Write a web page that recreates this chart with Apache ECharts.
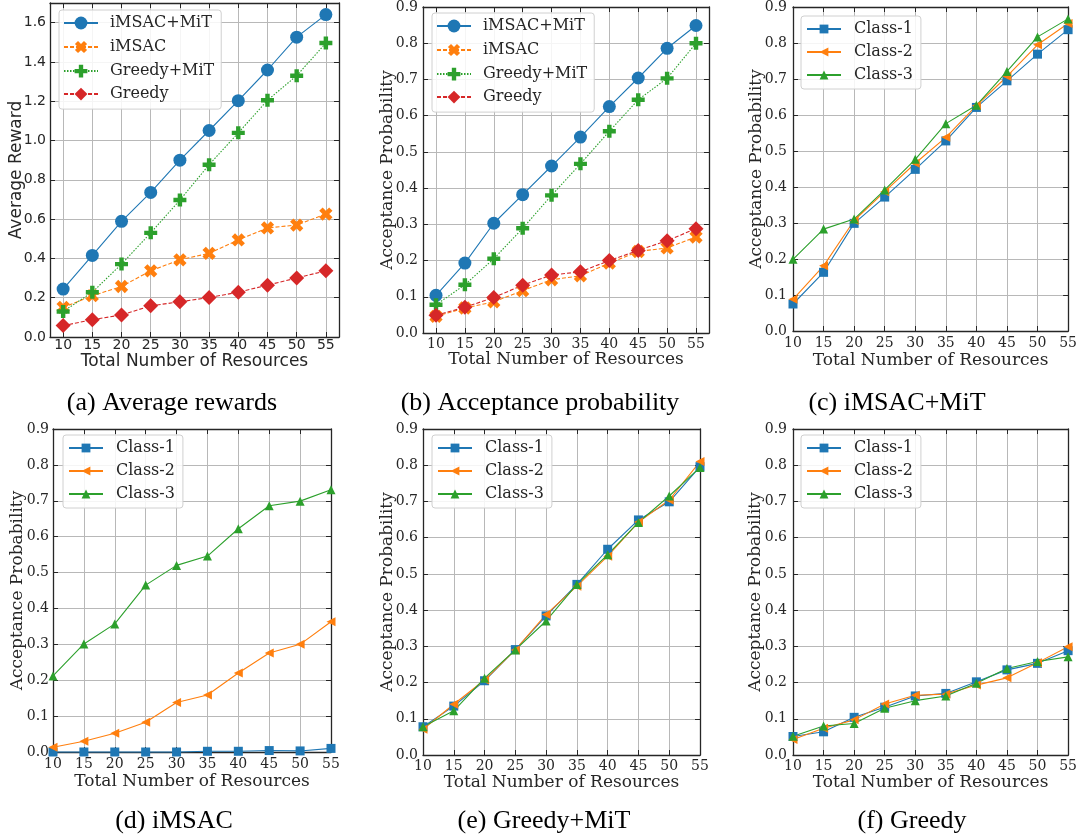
<!DOCTYPE html>
<html><head><meta charset="utf-8">
<script src="https://cdn.jsdelivr.net/npm/echarts@6/dist/echarts.min.js"></script>
<style>html,body{margin:0;padding:0;background:#fff}#c{width:1080px;height:840px}</style>
</head><body><div id="c"></div>
<script>
// ---------------- data ----------------
const resources = [10, 15, 20, 25, 30, 35, 40, 45, 50, 55];
const xTickValues = [10, 15, 20, 25, 30, 35, 40, 45, 50, 55];
const rewardTickValues = [0, 0.2, 0.4, 0.6, 0.8, 1.0, 1.2, 1.4, 1.6];
const probTickValues = [0, 0.1, 0.2, 0.3, 0.4, 0.5, 0.6, 0.7, 0.8, 0.9];
const algorithmNames = ['iMSAC+MiT', 'iMSAC', 'Greedy+MiT', 'Greedy'];
const classNames = ['Class-1', 'Class-2', 'Class-3'];
const captions = ['(a) Average rewards', '(b) Acceptance probability', '(c) iMSAC+MiT',
                  '(d) iMSAC', '(e) Greedy+MiT', '(f) Greedy'];
const xTitle = 'Total Number of Resources';
const yTitles = ['Average Reward', 'Acceptance Probability', 'Acceptance Probability',
                 'Acceptance Probability', 'Acceptance Probability', 'Acceptance Probability'];

// (a) average reward
const rewardIMSACMiT = [0.244, 0.415, 0.589, 0.736, 0.900, 1.051, 1.203, 1.359, 1.526, 1.641];
const rewardIMSAC = [0.151, 0.210, 0.257, 0.337, 0.393, 0.426, 0.494, 0.555, 0.570, 0.626];
const rewardGreedyMiT = [0.130, 0.228, 0.371, 0.530, 0.697, 0.877, 1.039, 1.205, 1.330, 1.496];
const rewardGreedy = [0.058, 0.088, 0.112, 0.159, 0.179, 0.201, 0.228, 0.264, 0.300, 0.337];
// (b) acceptance probability
const accIMSACMiT = [0.104, 0.193, 0.303, 0.382, 0.461, 0.541, 0.625, 0.704, 0.786, 0.849];
const accIMSAC = [0.046, 0.069, 0.086, 0.117, 0.147, 0.158, 0.193, 0.225, 0.235, 0.265];
const accGreedyMiT = [0.078, 0.133, 0.205, 0.289, 0.380, 0.467, 0.557, 0.644, 0.703, 0.800];
const accGreedy = [0.049, 0.071, 0.098, 0.132, 0.160, 0.169, 0.200, 0.228, 0.255, 0.288];
// (c) iMSAC+MiT per class
const imsacMiTClass1 = [0.075, 0.163, 0.299, 0.372, 0.449, 0.528, 0.621, 0.695, 0.769, 0.837];
const imsacMiTClass2 = [0.088, 0.181, 0.307, 0.387, 0.466, 0.538, 0.626, 0.707, 0.795, 0.854];
const imsacMiTClass3 = [0.199, 0.283, 0.311, 0.392, 0.477, 0.576, 0.627, 0.721, 0.817, 0.867];
// (d) iMSAC per class
const imsacClass1 = [0.000, 0.000, 0.000, 0.000, 0.000, 0.002, 0.002, 0.004, 0.003, 0.010];
const imsacClass2 = [0.013, 0.030, 0.052, 0.083, 0.138, 0.159, 0.220, 0.276, 0.300, 0.363];
const imsacClass3 = [0.212, 0.301, 0.357, 0.465, 0.520, 0.546, 0.622, 0.686, 0.699, 0.731];
// (e) Greedy+MiT per class
const greedyMiTClass1 = [0.078, 0.135, 0.205, 0.291, 0.384, 0.471, 0.568, 0.649, 0.699, 0.796];
const greedyMiTClass2 = [0.071, 0.140, 0.207, 0.290, 0.388, 0.466, 0.549, 0.643, 0.704, 0.810];
const greedyMiTClass3 = [0.078, 0.122, 0.212, 0.290, 0.370, 0.471, 0.553, 0.642, 0.715, 0.794];
// (f) Greedy per class
const greedyClass1 = [0.051, 0.064, 0.104, 0.132, 0.163, 0.170, 0.202, 0.235, 0.253, 0.288];
const greedyClass2 = [0.043, 0.074, 0.097, 0.141, 0.165, 0.168, 0.193, 0.213, 0.255, 0.299];
const greedyClass3 = [0.052, 0.080, 0.087, 0.129, 0.150, 0.163, 0.198, 0.239, 0.258, 0.271];

// ---------------- styling / layout ----------------
const SERIF = "'DejaVu Serif', serif";
const SANS = "'DejaVu Sans', sans-serif";
const CAPTION_FONT = "'Liberation Serif', 'Times New Roman', serif";
const C = ['#1f77b4', '#ff7f0e', '#2ca02c', '#d62728'];
const frameColor = '#262626';
const textColor = '#262626';
const gridColor = '#b8b8b8';
const plusPath = 'path://M-0.17,-0.5L0.17,-0.5L0.17,-0.17L0.5,-0.17L0.5,0.17L0.17,0.17L0.17,0.5L-0.17,0.5L-0.17,0.17L-0.5,0.17L-0.5,-0.17L-0.17,-0.17Z';

const panels = [
  {grid: {left: 50, top: 3, width: 289, height: 334}, xMin: 7.75, xMax: 57.25, yMax: 1.70, yTicks: rewardTickValues,
   font: SANS, xMargin: 1, xNameGap: 16, yNameGap: 25, yMargin: 4, legend: {left: 59, top: 10}},
  {grid: {left: 423, top: 7, width: 286, height: 326}, xMin: 7.75, xMax: 57.25, yMax: 0.9, yTicks: probTickValues,
   font: SERIF, xMargin: 4, xNameGap: 18, yNameGap: 27, yMargin: 5, legend: {left: 432, top: 13}},
  {grid: {left: 793, top: 7, width: 276, height: 324}, xMin: 10, xMax: 55, yMax: 0.9, yTicks: probTickValues,
   font: SERIF, xMargin: 5, xNameGap: 21, yNameGap: 28, yMargin: 6, legend: {left: 801, top: 16}},
  {grid: {left: 53, top: 429, width: 278, height: 323}, xMin: 10, xMax: 55, yMax: 0.9, yTicks: probTickValues,
   font: SERIF, xMargin: 5, xNameGap: 21, yNameGap: 27, yMargin: 4, legend: {left: 63, top: 435}},
  {grid: {left: 423, top: 429, width: 277, height: 326}, xMin: 10, xMax: 55, yMax: 0.9, yTicks: probTickValues,
   font: SERIF, xMargin: 4, xNameGap: 19, yNameGap: 27, yMargin: 5, legend: {left: 432, top: 435}},
  {grid: {left: 793, top: 429, width: 276, height: 326}, xMin: 10, xMax: 55, yMax: 0.9, yTicks: probTickValues,
   font: SERIF, xMargin: 4, xNameGap: 19, yNameGap: 29, yMargin: 6, legend: {left: 801, top: 435}}
];

const captionPos = [
  {x: 172, y: 403}, {x: 540, y: 403}, {x: 897, y: 403},
  {x: 174, y: 821}, {x: 544, y: 821}, {x: 912, y: 821}
];

const algoStyles = [
  {symbol: 'circle', symbolSize: 13, type: 'solid', rotate: 0},
  {symbol: plusPath, symbolSize: 14, type: [4, 2], rotate: 45},
  {symbol: plusPath, symbolSize: 13, type: [1.5, 1.5], rotate: 0},
  {symbol: 'diamond', symbolSize: 15, type: [4, 2], rotate: 0}
];
const classStyles = [
  {symbol: 'rect', symbolSize: 9, rotate: 0},
  {symbol: 'triangle', symbolSize: 9, rotate: 90},
  {symbol: 'triangle', symbolSize: 9, rotate: 0}
];

const panelSeries = [
  [rewardIMSACMiT, rewardIMSAC, rewardGreedyMiT, rewardGreedy],
  [accIMSACMiT, accIMSAC, accGreedyMiT, accGreedy],
  [imsacMiTClass1, imsacMiTClass2, imsacMiTClass3],
  [imsacClass1, imsacClass2, imsacClass3],
  [greedyMiTClass1, greedyMiTClass2, greedyMiTClass3],
  [greedyClass1, greedyClass2, greedyClass3]
];

const grids = [], xAxes = [], yAxes = [], series = [], legends = [], graphics = [];

panels.forEach((p, i) => {
  grids.push(Object.assign({containLabel: false}, p.grid));
  const lineCfg = {show: true, onZero: false, lineStyle: {color: frameColor, width: 1.3}};
  const tickCfg = (vals) => ({show: true, inside: true, length: 5, customValues: vals, lineStyle: {color: frameColor, width: 1}});
  // bottom x
  xAxes.push({
    gridIndex: i, type: 'value', min: p.xMin, max: p.xMax, position: 'bottom',
    axisLine: lineCfg, axisTick: tickCfg(xTickValues),
    axisLabel: {customValues: xTickValues, margin: p.xMargin, fontFamily: p.font, fontSize: 14, color: textColor,
                formatter: v => String(Math.round(v))},
    splitLine: {show: true, lineStyle: {color: gridColor, width: 1}},
    name: xTitle, nameLocation: 'middle', nameGap: p.xNameGap, nameMoveOverlap: false,
    nameTextStyle: {fontFamily: p.font, fontSize: 17, color: textColor}
  });
  // top x (ticks only)
  xAxes.push({
    gridIndex: i, type: 'value', min: p.xMin, max: p.xMax, position: 'top',
    axisLine: lineCfg, axisTick: tickCfg(xTickValues), axisLabel: {show: false}, splitLine: {show: false}
  });
  // left y
  yAxes.push({
    gridIndex: i, type: 'value', min: 0, max: p.yMax, position: 'left',
    axisLine: lineCfg, axisTick: tickCfg(p.yTicks),
    axisLabel: {customValues: p.yTicks, margin: p.yMargin, fontFamily: p.font, fontSize: 14, color: textColor,
                formatter: v => v.toFixed(1)},
    splitLine: {show: true, lineStyle: {color: gridColor, width: 1}},
    name: yTitles[i], nameLocation: 'middle', nameGap: p.yNameGap, nameMoveOverlap: false,
    nameTextStyle: {fontFamily: p.font, fontSize: 17, color: textColor}
  });
  // right y (ticks only)
  yAxes.push({
    gridIndex: i, type: 'value', min: 0, max: p.yMax, position: 'right',
    axisLine: lineCfg, axisTick: tickCfg(p.yTicks), axisLabel: {show: false}, splitLine: {show: false}
  });

  const isAlgo = i < 2;
  const names = isAlgo ? algorithmNames : classNames;
  panelSeries[i].forEach((vals, k) => {
    const st = isAlgo ? algoStyles[k] : classStyles[k];
    series.push({
      type: 'line', name: names[k], xAxisIndex: 2 * i, yAxisIndex: 2 * i,
      data: resources.map((x, j) => [x, vals[j]]),
      symbol: st.symbol, symbolSize: st.symbolSize, symbolRotate: st.rotate,
      showAllSymbol: true, clip: false, animation: false,
      lineStyle: {color: C[k], width: 1.1, type: isAlgo ? st.type : 'solid'},
      itemStyle: {color: C[k], opacity: 1},
      emphasis: {disabled: true}
    });
  });

  legends.push({
    left: p.legend.left, top: p.legend.top, orient: 'vertical',
    data: names,
    itemWidth: 34, itemHeight: isAlgo ? 16 : 11, itemGap: 7,
    padding: isAlgo ? [5, 7, 7, 4] : [5, 8, 6, 5],
    backgroundColor: 'rgba(255,255,255,0.85)', borderColor: '#d0d0d0', borderWidth: 1, borderRadius: 3,
    textStyle: {fontFamily: SERIF, fontSize: 16, color: textColor, padding: [0, 0, 0, isAlgo ? 7 : 8]},
    selectedMode: false
  });

  graphics.push({
    type: 'text', x: captionPos[i].x, y: captionPos[i].y,
    style: {text: captions[i], fontFamily: CAPTION_FONT, fontSize: 26, fill: '#000',
            textAlign: 'center', textVerticalAlign: 'middle'}
  });
});

const chart = echarts.init(document.getElementById('c'), null, {renderer: 'canvas'});
chart.setOption({
  backgroundColor: '#fff',
  animation: false,
  grid: grids, xAxis: xAxes, yAxis: yAxes, series: series, legend: legends, graphic: graphics
});
</script>
</body></html>
